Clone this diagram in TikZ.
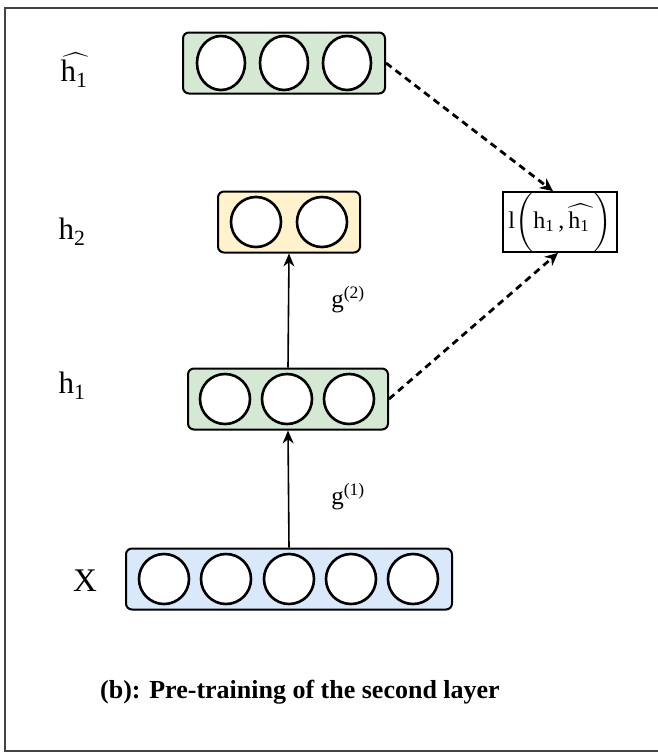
\documentclass[tikz,border=0pt]{standalone}
\usepackage{amsmath}
\usepackage{fontspec}
\setmainfont{Liberation Serif}
\usetikzlibrary{arrows.meta, shapes.geometric}
\definecolor{layergreen}{HTML}{D5E8D4}
\definecolor{layeryellow}{HTML}{FFF2CC}
\definecolor{layerblue}{HTML}{DAE8FC}
\definecolor{framegray}{HTML}{444444}
\newcommand{\hhat}{$\widehat{\mathrm{h}_{\mathrm{1}}\,}$}
\tikzset{
  layer/.style={draw=black, line width=2pt, rounded corners=6pt, minimum height=61pt, inner sep=0pt},
  unit/.style={draw=black, line width=2.6pt, fill=white, circle, minimum size=50pt, inner sep=0pt},
  topunit/.style={draw=black, line width=2.6pt, fill=white, ellipse, minimum width=48pt, minimum height=54pt, inner sep=0pt},
  lbl/.style={font=\fontsize{31}{33}\selectfont, inner sep=0pt},
  glabel/.style={font=\fontsize{25}{27}\selectfont, inner sep=0pt},
  uparrow/.style={line width=1.6pt, -{Stealth[length=13pt, width=11pt]}},
  lossarrow/.style={line width=2.8pt, dash pattern=on 7pt off 5pt, -{Stealth[length=13pt, width=12pt]}},
}
\begin{document}
\begin{tikzpicture}[x=1pt, y=-1pt]
  \useasboundingbox (0,0) rectangle (658,753);
  % outer frame (right side runs off the page)
  \draw[framegray, line width=2.2pt] (670,8) -- (5,8) -- (5,751) -- (670,751);

  % reconstructed first hidden layer
  \node[layer, fill=layergreen, minimum width=202pt] (top) at (284,63) {};
  \foreach \i/\x in {1/221, 2/284, 3/347}
    \node[topunit] (top\i) at (\x,63) {};

  % second hidden layer
  \node[layer, fill=layeryellow, minimum width=142pt] (h2) at (289,222) {};
  \foreach \i/\x in {1/256, 2/322}
    \node[unit] (h2u\i) at (\x,222) {};

  % first hidden layer
  \node[layer, fill=layergreen, minimum width=200pt] (h1) at (288,399) {};
  \foreach \i/\x in {1/225, 2/287, 3/349}
    \node[unit] (h1u\i) at (\x,399) {};

  % input layer
  \node[layer, fill=layerblue, minimum width=326pt] (x) at (289,579) {};
  \foreach \i/\x in {1/164, 2/226, 3/289, 4/351, 5/413}
    \node[unit] (xu\i) at (\x,579) {};

  % loss node
  \node[draw=black, line width=2pt, minimum width=114pt, minimum height=57pt, inner sep=0pt,
        font=\fontsize{24}{27}\selectfont] (loss) at (560,222)
        {l$\biggl($h\textsubscript{1}\,,\,\hhat$\biggr)$};

  % row labels
  \node[lbl] (lhat) at (76,70) {\hhat};
  \node[lbl] (lh2) at (72,232) {h\textsubscript{2}};
  \node[lbl] (lh1) at (72,386) {h\textsubscript{1}};
  \node[lbl, font=\fontsize{33}{35}\selectfont] (lx) at (85,581) {X};

  % encoder arrows
  \draw[uparrow] (x.north) -- (h1.south);
  \draw[uparrow] (h1.north) -- (h2.south);
  \node[glabel] (g1) at (348,497) {g\textsuperscript{(1)}};
  \node[glabel] (g2) at (348,300) {g\textsuperscript{(2)}};

  % reconstruction loss inputs
  \draw[lossarrow] (top.east) -- (loss.north -| 553,0);
  \draw[lossarrow] (h1.east) -- (loss.south -| 558,0);

  % caption
  \node[font=\bfseries\fontsize{26}{28}\selectfont, inner sep=0pt] (cap) at (300,692)
    {(b): Pre-training of the second layer};
\end{tikzpicture}
\end{document}
